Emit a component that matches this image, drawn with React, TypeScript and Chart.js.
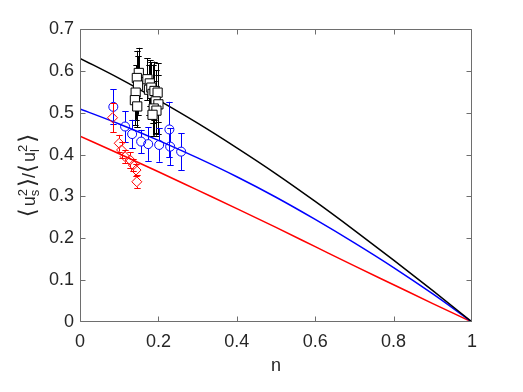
import React, { useEffect, useRef } from "react";
import { Chart, registerables } from "chart.js";

Chart.register(...registerables);

// ---- model curves ----
const curveN = [0, 0.1, 0.2, 0.3, 0.4, 0.5, 0.6, 0.7, 0.8, 0.9, 1];
const blackCurve = [0.63, 0.582, 0.53, 0.475, 0.416, 0.354, 0.288, 0.219, 0.148, 0.075, 0];
const blueCurve = [0.509, 0.473, 0.434, 0.392, 0.347, 0.298, 0.245, 0.189, 0.13, 0.067, 0];
const redCurve = [0.444, 0.402, 0.359, 0.315, 0.271, 0.226, 0.18, 0.134, 0.089, 0.044, 0];

// ---- black squares ----
const squareN = [0.15, 0.145, 0.148, 0.142, 0.14, 0.146, 0.172, 0.178, 0.176, 0.182, 0.185, 0.19, 0.198, 0.193, 0.2, 0.188, 0.195, 0.185];
const squareV = [0.595, 0.583, 0.565, 0.548, 0.53, 0.515, 0.58, 0.57, 0.555, 0.56, 0.545, 0.552, 0.548, 0.527, 0.52, 0.51, 0.505, 0.495];
const squareErr = [0.06, 0.065, 0.07, 0.065, 0.06, 0.05, 0.05, 0.055, 0.06, 0.06, 0.07, 0.07, 0.07, 0.075, 0.07, 0.065, 0.06, 0.05];

// ---- blue circles ----
const circleN = [0.085, 0.115, 0.133, 0.156, 0.174, 0.202, 0.23, 0.258, 0.228];
const circleV = [0.514, 0.467, 0.449, 0.431, 0.425, 0.423, 0.419, 0.407, 0.46];
const circleErr = [0.042, 0.037, 0.034, 0.028, 0.04, 0.04, 0.044, 0.044, 0.066];

// ---- red diamonds ----
const diamondN = [0.083, 0.1, 0.106, 0.115, 0.128, 0.136, 0.143, 0.145];
const diamondV = [0.488, 0.427, 0.411, 0.395, 0.387, 0.375, 0.363, 0.335];
const diamondErr = [0.035, 0.02, 0.02, 0.015, 0.018, 0.015, 0.015, 0.015];

// ---- ticks ----
const xTickValues = [0, 0.2, 0.4, 0.6, 0.8, 1];
const yTickValues = [0, 0.1, 0.2, 0.3, 0.4, 0.5, 0.6, 0.7];

const AXIS_COLOR = "#6e6e6e";
const TEXT_COLOR = "#262626";
const FONT = "Liberation Sans, Arial, sans-serif";

const pts = (xs: number[], ys: number[]) => xs.map((x, i) => ({ x, y: ys[i] }));
const fmt = (v: any) => String(Number(Number(v).toFixed(3)));

const errorBarPlugin = {
  id: "errorBars",
  beforeDatasetDraw(chart: any, args: any) {
    const ds = chart.data.datasets[args.index];
    if (!ds.errors) return;
    const ctx = chart.ctx;
    const xs = chart.scales.x;
    const ys = chart.scales.y;
    const gap = ds.barGap || 0;
    const cap = 3.2;
    ctx.save();
    ctx.strokeStyle = ds.borderColor;
    ctx.lineWidth = 1;
    ds.data.forEach((p: any, i: number) => {
      const e = ds.errors[i];
      const px = Math.round(xs.getPixelForValue(p.x)) + 0.5;
      const cy = ys.getPixelForValue(p.y);
      const top = ys.getPixelForValue(p.y + e);
      const bot = ys.getPixelForValue(p.y - e);
      ctx.beginPath();
      if (cy - gap > top) {
        ctx.moveTo(px, top);
        ctx.lineTo(px, cy - gap);
      }
      if (cy + gap < bot) {
        ctx.moveTo(px, cy + gap);
        ctx.lineTo(px, bot);
      }
      ctx.moveTo(px - cap, Math.round(top) + 0.5);
      ctx.lineTo(px + cap, Math.round(top) + 0.5);
      ctx.moveTo(px - cap, Math.round(bot) + 0.5);
      ctx.lineTo(px + cap, Math.round(bot) + 0.5);
      ctx.stroke();
    });
    ctx.restore();
  },
};

const frameAndTitlesPlugin = {
  id: "frameAndTitles",
  afterDraw(chart: any) {
    const ctx = chart.ctx;
    const { left, right, top, bottom } = chart.chartArea;
    const xs = chart.scales.x;
    const ys = chart.scales.y;
    const L = Math.round(left) + 0.5;
    const R = Math.round(right) - 0.5;
    const T = Math.round(top) + 0.5;
    const B = Math.round(bottom) - 0.5;
    const tl = 5;
    ctx.save();
    ctx.strokeStyle = AXIS_COLOR;
    ctx.lineWidth = 1;
    ctx.beginPath();
    ctx.rect(L, T, R - L, B - T);
    xTickValues.forEach((v) => {
      const px = Math.round(xs.getPixelForValue(v)) + 0.5;
      const xx = Math.min(Math.max(px, L), R);
      ctx.moveTo(xx, B);
      ctx.lineTo(xx, B - tl);
      ctx.moveTo(xx, T);
      ctx.lineTo(xx, T + tl);
    });
    yTickValues.forEach((v) => {
      const py = Math.round(ys.getPixelForValue(v)) + 0.5;
      const yy = Math.min(Math.max(py, T), B);
      ctx.moveTo(L, yy);
      ctx.lineTo(L + tl, yy);
      ctx.moveTo(R, yy);
      ctx.lineTo(R - tl, yy);
    });
    ctx.stroke();

    // x title
    ctx.fillStyle = TEXT_COLOR;
    ctx.font = `18px ${FONT}`;
    ctx.textAlign = "center";
    ctx.textBaseline = "alphabetic";
    ctx.fillText("n", (left + right) / 2, 371);

    // y title: <u_s^2>/<u_l^2>
    const mainFont = `18px ${FONT}`;
    const brFont = `23px DejaVu Sans, sans-serif`;
    const scFont = `13px ${FONT}`;
    type Piece = { t: string; f: string; dy: number; stackWith?: string; pad?: number };
    const pieces: Piece[] = [
      { t: "\u27E8", f: brFont, dy: 0, pad: 2 },
      { t: "u", f: mainFont, dy: 0 },
      { t: "2", f: scFont, dy: -8, stackWith: "s", pad: 2 },
      { t: "\u27E9", f: brFont, dy: 0 },
      { t: "/", f: mainFont, dy: 0 },
      { t: "\u27E8", f: brFont, dy: 0, pad: 2 },
      { t: "u", f: mainFont, dy: 0 },
      { t: "2", f: scFont, dy: -8, stackWith: "l", pad: 2 },
      { t: "\u27E9", f: brFont, dy: 0 },
    ];
    const widths = pieces.map((p) => {
      ctx.font = p.f;
      let w = ctx.measureText(p.t).width;
      if (p.stackWith) w = Math.max(w, ctx.measureText(p.stackWith).width);
      return w + (p.pad || 0);
    });
    const total = widths.reduce((a, b) => a + b, 0);
    ctx.translate(35, (top + bottom) / 2);
    ctx.rotate(-Math.PI / 2);
    ctx.textAlign = "left";
    ctx.textBaseline = "alphabetic";
    let x = -total / 2;
    pieces.forEach((p, i) => {
      ctx.font = p.f;
      ctx.fillText(p.t, x, p.dy);
      if (p.stackWith) ctx.fillText(p.stackWith, x, 4);
      x += widths[i];
    });
    ctx.restore();
  },
};

export default function App() {
  const ref = useRef<HTMLCanvasElement>(null);
  useEffect(() => {
    if (!ref.current) return;
    const lineDs = (vals: number[], color: string) =>
      ({
        type: "line",
        data: pts(curveN, vals),
        borderColor: color,
        borderWidth: 1.5,
        pointRadius: 0,
        cubicInterpolationMode: "monotone",
        order: 5,
      }) as any;
    const chart = new Chart(ref.current, {
      type: "scatter",
      data: {
        datasets: [
          lineDs(blackCurve, "#000000"),
          lineDs(blueCurve, "#0000ff"),
          lineDs(redCurve, "#ff0000"),
          {
            data: pts(squareN, squareV),
            errors: squareErr,
            barGap: 4.5,
            pointStyle: "rect",
            pointRadius: 6.5,
            backgroundColor: "#ffffff",
            borderColor: "#000000",
            borderWidth: 1,
            order: 2,
          } as any,
          {
            data: pts(circleN, circleV),
            errors: circleErr,
            barGap: 4.5,
            pointStyle: "circle",
            pointRadius: 4.5,
            backgroundColor: "rgba(0,0,0,0)",
            borderColor: "#0000ff",
            borderWidth: 1,
            order: 1,
          } as any,
          {
            data: pts(diamondN, diamondV),
            errors: diamondErr,
            barGap: 5,
            pointStyle: "rectRot",
            pointRadius: 5,
            backgroundColor: "rgba(0,0,0,0)",
            borderColor: "#ff0000",
            borderWidth: 1,
            order: 0,
          } as any,
        ],
      },
      options: {
        responsive: false,
        animation: false,
        events: [],
        layout: { padding: { left: 0, right: 51, top: 29, bottom: 0 } },
        plugins: { legend: { display: false }, tooltip: { enabled: false } },
        scales: {
          x: {
            type: "linear",
            min: 0,
            max: 1,
            grid: { display: false, drawTicks: false },
            border: { display: false },
            afterBuildTicks: (s: any) => {
              s.ticks = xTickValues.map((v) => ({ value: v }));
            },
            afterFit: (s: any) => {
              s.height = 70;
            },
            ticks: {
              padding: 9,
              color: TEXT_COLOR,
              font: { size: 18, family: FONT },
              maxRotation: 0,
              callback: fmt,
            },
          },
          y: {
            type: "linear",
            min: 0,
            max: 0.7,
            grid: { display: false, drawTicks: false },
            border: { display: false },
            afterBuildTicks: (s: any) => {
              s.ticks = yTickValues.map((v) => ({ value: v }));
            },
            afterFit: (s: any) => {
              s.width = 80;
            },
            ticks: {
              padding: 6,
              color: TEXT_COLOR,
              font: { size: 18, family: FONT },
              callback: fmt,
            },
          },
        },
      },
      plugins: [errorBarPlugin, frameAndTitlesPlugin],
    });
    return () => chart.destroy();
  }, []);
  return (
    <div style={{ position: "fixed", left: 0, top: 0, width: 523, height: 392, background: "#ffffff" }}>
      <canvas ref={ref} width={523} height={392} style={{ width: 523, height: 392, display: "block" }} />
    </div>
  );
}
